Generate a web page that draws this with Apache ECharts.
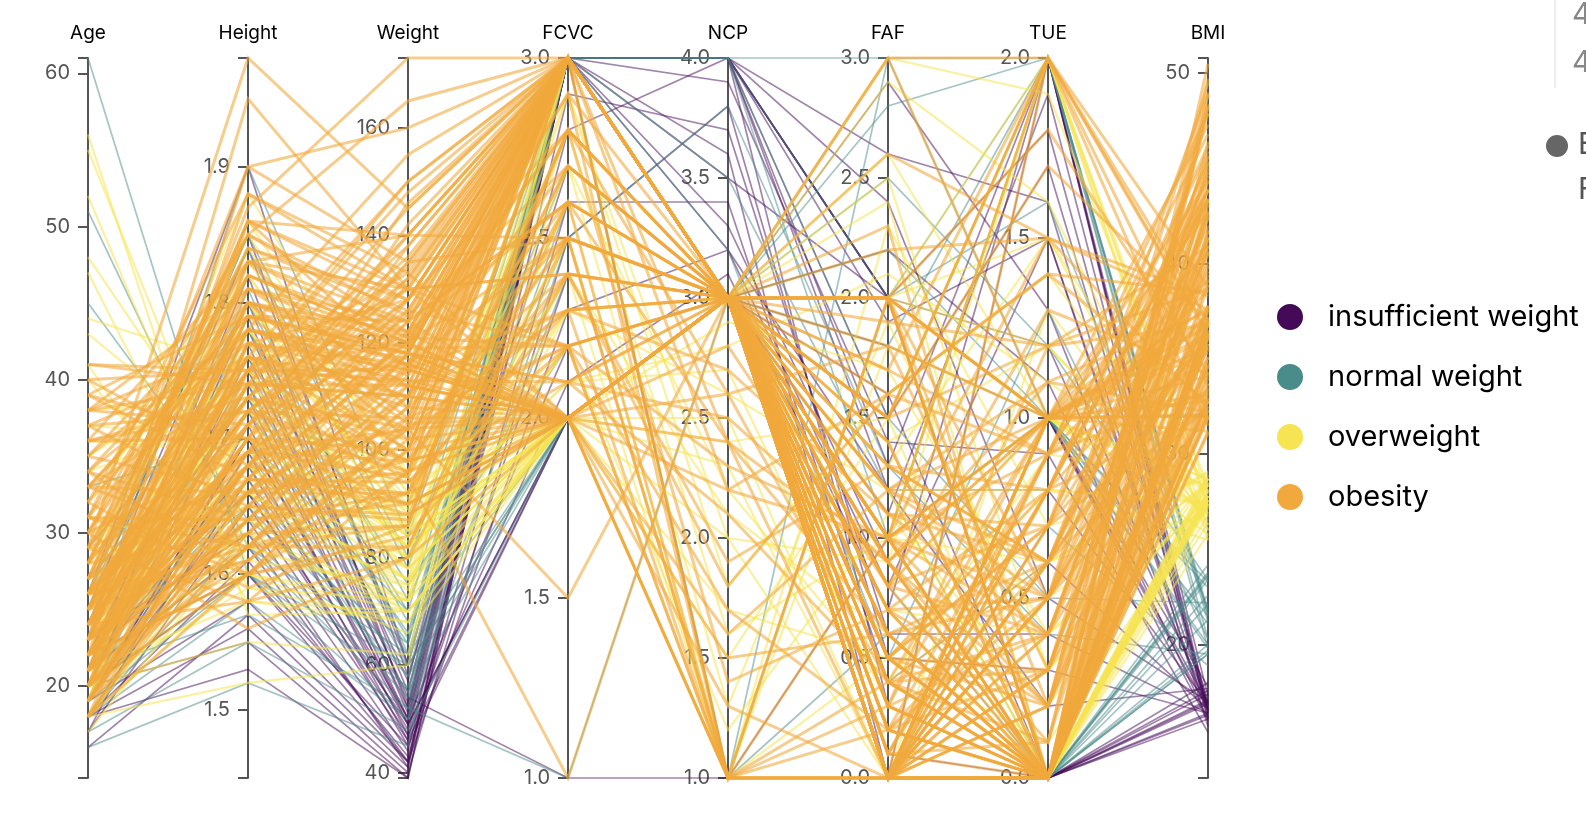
<!DOCTYPE html>
<html>
<head>
<meta charset="utf-8">
<script src="https://cdn.jsdelivr.net/npm/echarts@6/dist/echarts.min.js"></script>
<style>html,body{margin:0;padding:0;background:#fff;overflow:hidden}#main{width:1586px;height:830px}</style>
</head>
<body>
<div id="main"></div>
<script>
// ---- data ----
const dimensions = ['Age', 'Height', 'Weight', 'FCVC', 'NCP', 'FAF', 'TUE', 'BMI'];
const categories = ['insufficient weight', 'normal weight', 'overweight', 'obesity'];
const categoryColors = ['#440a58', '#4a8c8a', '#f6e452', '#f1a83d'];

// rows: Age, Height, Weight, FCVC, NCP, FAF, TUE, BMI
const insufficientRows = [
  [21,1.62,42,3,4,2.0,1.0,16.0],[19,1.70,50,3,3,1.0,2.0,17.3],[18,1.56,40,2.5,3.8,0.5,0.3,16.4],
  [22,1.75,52,3,4,1.5,1.7,17.0],[20,1.60,45,2.0,3,0.0,0.0,17.6],[23,1.80,55,3,3.5,2.0,1.2,17.0],
  [17,1.65,46,2.8,4,1.2,0.8,16.9],[24,1.72,50,3,3,0.2,0.0,16.9],[19,1.58,42,2.3,3.2,0.8,1.5,16.8],
  [21,1.68,48,3,4,2.4,0.5,17.0],[25,1.85,58,2.7,3,1.8,1.0,16.9],[18,1.53,39,3,3.6,0.0,2.0,16.7],
  [20,1.76,54,1.0,1.0,1.0,0.0,17.4],[22,1.64,44,3,4,2.0,1.8,16.4],[19,1.70,49,2.0,3,1.6,0.0,17.0],
  [26,1.90,60,3,3,2.9,1.3,16.6],[18,1.61,43,2.6,3.4,0.4,0.6,16.6],[23,1.66,47,3,4,2.0,0.0,17.1],
  [20,1.74,50,2.2,3.0,1.1,1.9,16.5],[16,1.57,41,3,1.0,0.0,1.0,16.6],[21,1.79,53,3,4,1.3,2.0,16.5],
  [22,1.60,42,2.9,3.7,0.6,0.4,16.4],[19,1.69,46,2.0,3.0,2.2,1.1,16.1],[24,1.73,49,3,3.3,0.9,0.0,16.4],
  [20,1.55,39,3,4,1.9,1.5,16.2],[18,1.67,45,2.4,3,0.1,0.0,16.1],[21,1.82,52,3,4,2.6,1.6,15.7],
  [23,1.63,41,3,3.9,1.4,0.9,15.4],[17,1.71,47,2.1,3.1,0.7,2.0,16.1],[20,1.77,51,3,4,0.3,0.0,16.3],
  [22,1.78,57,3,4,2.0,0.0,18.0],[19,1.66,49,2.0,3,1.0,1.0,17.8],[24,1.84,60,3,3.2,1.2,0.2,17.7]
];
const normalRows = [
  [21,1.70,62,3,3,1.0,1.0,21.5],[23,1.65,58,2.0,3,0.0,0.0,21.3],[61,1.60,60,3,1.0,0.0,0.0,23.4],
  [19,1.75,65,3,4,2.0,2.0,21.2],[26,1.80,72,2.5,3,1.5,0.5,22.2],[51,1.62,62,2.0,3,0.5,0.0,23.6],
  [18,1.58,50,3,3,2.0,1.0,20.0],[22,1.78,68,2.0,1.0,3.0,2.0,21.5],[20,1.68,55,3,4,1.0,0.0,19.5],
  [25,1.85,80,2.7,3,2.5,1.2,23.4],[17,1.55,48,2.0,3,0.3,0.0,20.0],[24,1.72,64,3,3,1.8,2.0,21.6],
  [21,1.62,52,1.0,3,0.0,1.0,19.8],[29,1.76,70,3,3.5,1.2,0.0,22.6],[19,1.60,56,2.4,3,2.0,1.6,21.9],
  [23,1.90,84,3,4,3.0,1.0,23.3],[16,1.52,45,3,3,0.8,0.0,19.5],[22,1.66,60,2.0,3,1.0,2.0,21.8],
  [27,1.73,66,3,1.0,2.0,0.0,22.1],[20,1.81,62,2.6,3,0.0,0.7,18.9],[18,1.63,54,3,4,1.5,2.0,20.3],
  [33,1.70,70,2.0,3,0.0,0.0,24.2],[21,1.57,52,3,3,2.2,1.0,21.1],[24,1.78,75,2.2,3,1.0,0.0,23.7],
  [19,1.69,58,3,3.2,0.5,1.3,20.3],[22,1.74,60,2.0,3,2.8,2.0,19.8],[45,1.64,64,3,3,0.0,0.0,23.8],
  [20,1.60,50,2.5,3.8,1.3,0.4,19.5],[26,1.84,78,3,3,2.0,1.0,23.0],[18,1.67,55,2.0,1.0,0.6,0.0,19.7]
];
const overweightRows = [
  [22,1.70,78,2.0,3,1.0,1.0,27.0],[55,1.62,72,3,3,0.0,0.0,27.4],[25,1.75,82,2.5,1.0,0.5,0.0,26.8],
  [30,1.65,75,2.0,3,0.0,0.8,27.5],[19,1.80,88,3,3,2.0,2.0,27.2],[41,1.58,68,2.3,2.6,1.2,0.0,27.2],
  [23,1.68,76,2.0,1.0,1.8,1.0,26.9],[26,1.85,95,2.8,3,2.5,0.3,27.8],[18,1.60,66,2.0,3,0.3,0.0,25.8],
  [34,1.72,84,2.0,2.0,0.0,0.5,28.4],[21,1.77,80,3,3,1.0,2.0,25.5],[48,1.66,76,2.6,1.0,0.0,0.0,27.6],
  [24,1.74,85,2.1,2.8,2.1,1.1,28.1],[20,1.55,62,3,3,0.0,1.0,25.8],[28,1.82,92,2.0,1.5,1.5,0.0,27.8],
  [37,1.70,82,2.4,3,0.7,0.0,28.4],[17,1.63,70,2.0,3,2.9,1.6,26.3],[23,1.78,90,2.7,2.2,0.4,0.9,28.4],
  [52,1.60,72,2.0,3,0.0,0.0,28.1],[22,1.67,80,2.2,1.2,1.1,0.2,28.7],[27,1.88,100,3,3,2.0,1.0,28.3],
  [19,1.72,78,2.0,2.5,0.0,0.0,26.4],[31,1.64,76,2.9,1.8,1.6,1.4,28.3],[21,1.58,70,2.0,3,0.9,2.0,28.0],
  [44,1.75,86,2.5,3,0.2,0.0,28.1],[25,1.69,82,2.0,1.0,2.3,0.7,28.7],[20,1.80,86,2.3,3,1.4,1.2,26.5],
  [29,1.62,73,2.0,2.3,0.0,0.0,27.8],[23,1.76,88,3,3,3.0,1.9,28.4],[38,1.73,82,2.0,3,0.5,0.1,27.4],
  [18,1.66,74,2.8,1.6,1.0,0.6,26.9],[56,1.57,70,2.0,3,0.0,0.0,28.4],[22,1.83,96,2.0,2.9,1.7,0.4,28.7],
  [26,1.71,84,2.6,3,0.8,1.0,28.7],[20,1.59,68,2.0,1.0,0.0,1.3,26.9],[33,1.78,91,2.2,3,2.4,0.0,28.7],
  [24,1.68,72,3,3,1.2,0.8,25.5],[21,1.74,87,2.0,3,0.0,0.0,28.7],[40,1.61,75,2.4,2.1,0.6,0.0,28.9],
  [19,1.86,98,2.0,3,2.0,1.5,28.3],[27,1.65,78,2.7,1.3,1.9,0.3,28.7],[23,1.70,83,2.0,3,0.0,1.0,28.7],
  [35,1.76,85,2.1,2.7,0.3,0.0,27.4],[18,1.52,60,3,3,1.0,2.0,26.0],[29,1.80,94,2.0,3,1.3,0.6,29.0],
  [21,1.75,84,2.0,3,1.0,0.0,27.4],[26,1.63,72,2.5,3,0.0,1.0,27.1],[43,1.68,78,2.0,3,0.3,0.0,27.6],
  [19,1.78,85,2.4,1.0,2.0,1.2,26.8],[24,1.60,70,2.0,3,0.7,0.4,27.3],[32,1.82,92,2.8,3,1.2,0.0,27.8],
  [22,1.71,80,2.0,2.4,1.5,2.0,27.4],[28,1.66,76,2.2,3,0.0,0.0,27.6],[47,1.59,72,2.0,3,0.0,0.0,28.5],
  [20,1.84,95,2.6,3,2.6,1.0,28.1],[25,1.73,82,2.0,1.7,0.5,0.8,27.4],[36,1.69,80,2.3,3,0.0,0.0,28.0],
  [18,1.64,70,2.0,3,1.3,1.5,26.0],[23,1.79,89,2.9,2.0,0.9,0.0,27.8],[30,1.70,84,2.0,3,0.4,0.6,29.1]
];
const obesityRows = [
  [26,1.65,118,3,3,0.0,0.6,43.3],[21,1.70,125,3,3,0.2,0.0,43.3],[23,1.62,112,3,3,0.0,1.0,42.7],
  [25,1.75,130,3,3,0.5,0.3,42.4],[19,1.68,120,3,3,0.0,0.0,42.5],[22,1.72,132,3,3,0.8,0.7,44.6],
  [24,1.64,115,3,3,0.0,0.4,42.8],[20,1.60,105,3,3,0.1,0.0,41.0],[26,1.73,140,3,3,1.0,0.9,46.8],
  [18,1.66,110,3,3,0.0,0.2,39.9],[25,1.69,135,3,3,0.3,1.0,47.3],[21,1.61,102,3,3,0.0,0.5,39.4],
  [23,1.76,150,3,3,0.6,0.0,48.4],[22,1.67,128,3,3,0.0,0.8,45.9],[26,1.71,122,3,3,0.4,0.1,41.7],
  [20,1.63,108,3,3,0.9,0.0,40.6],[24,1.74,138,3,3,0.0,0.6,45.6],[19,1.68,115,3,3,0.2,0.3,40.7],
  [18,1.75,133,3,3,0.1,0.9,43.4],[21,1.64,110,3,3,0.4,0.3,40.9],[24,1.66,124,3,3,0.0,0.0,45.0],
  [26,1.69,120,3,3,0.6,0.6,42.0],[22,1.60,106,3,3,0.3,0.4,41.4],[20,1.72,134,3,3,0.0,0.7,45.3],
  [23,1.63,118,3,3,0.5,0.0,44.4],[25,1.71,140,3,3,0.2,0.9,47.9],[19,1.65,122,3,3,0.0,0.5,44.8],
  [21,1.74,145,3,3,0.7,0.2,47.9],[26,1.62,114,3,3,0.1,0.8,43.4],[22,1.68,131,3,3,0.9,0.1,46.4],
  [24,1.73,136,3,3,0.0,0.3,45.4],[20,1.66,112,3,3,0.4,1.0,40.6],[23,1.70,146,3,3,0.0,0.0,50.5],
  [25,1.61,104,3,3,0.8,0.4,40.1],[18,1.69,118,3,3,0.2,0.6,41.3],[21,1.67,126,3,3,0.0,0.2,45.2],
  [26,1.75,150,3,3,0.5,0.7,49.0],[22,1.64,116,3,3,0.3,0.0,43.1],[24,1.71,128,3,3,0.0,0.9,43.8],
  [19,1.62,108,3,3,0.6,0.5,41.2],[25,1.68,138,3,3,0.1,0.1,48.9],[20,1.73,130,3,3,0.0,0.4,43.4],
  [23,1.66,121,3,3,0.7,0.8,43.9],
  [30,1.80,120,2.5,3,1.0,0.0,37.0],[35,1.78,118,2.0,3,0.0,1.0,37.2],[28,1.85,125,2.7,3,2.0,0.0,36.5],
  [40,1.75,115,2.0,3,0.5,0.0,37.6],[27,1.82,122,3,3,1.5,1.2,36.8],[33,1.79,119,2.2,1.0,0.0,0.0,37.1],
  [31,1.88,130,2.4,3,1.2,0.5,36.8],[25,1.77,115,2.0,3,2.0,1.0,36.7],[38,1.81,121,2.8,3,0.0,0.0,36.9],
  [29,1.76,110,2.0,2.6,1.8,0.3,35.5],[36,1.83,124,2.6,3,0.7,0.0,37.0],[23,1.80,118,2.0,3,1.0,2.0,36.4],
  [41,1.74,112,2.3,3,0.0,0.0,37.0],[26,1.86,128,3,3,2.0,1.0,37.0],[32,1.78,117,2.0,1.0,0.4,0.0,36.9],
  [28,1.90,135,2.5,3,1.3,0.8,37.4],[34,1.77,113,2.1,3,0.0,1.0,36.1],[24,1.82,120,2.0,3,3.0,2.0,36.2],
  [39,1.79,116,2.9,3,0.2,0.0,36.2],[27,1.84,126,2.2,2.3,1.0,0.5,37.2],
  [22,1.78,115,2.3,3,1.2,0.6,36.3],[30,1.82,120,2.0,3,0.0,0.0,36.2],[25,1.80,122,2.6,3,1.8,1.0,37.7],
  [37,1.76,112,2.0,3,0.5,0.2,36.2],[28,1.84,128,2.8,3,2.0,0.0,37.8],[33,1.79,118,2.1,2.5,0.9,1.0,36.8],
  [20,1.77,116,2.5,3,1.5,1.7,37.0],[41,1.75,113,2.0,3,0.0,0.0,36.9],[26,1.86,130,2.4,3,1.0,0.4,37.6],
  [35,1.81,119,2.9,1.0,0.3,0.0,36.3],[24,1.79,124,2.0,3,1.9,1.2,38.7],[29,1.83,121,2.2,3,0.6,0.0,36.1],
  [31,1.78,114,2.7,3,1.1,0.7,36.0],[23,1.88,133,2.0,3,2.2,1.5,37.6],[38,1.74,110,2.5,3,0.0,0.5,36.3],
  [22,1.70,90,2.0,3,1.0,0.0,31.1],[33,1.62,82,2.5,1.0,0.0,0.0,31.2],[26,1.75,98,3,3,2.0,1.0,32.0],
  [37,1.65,88,2.0,1.0,0.0,0.3,32.3],[21,1.80,102,2.3,3,1.5,2.0,31.5],[29,1.58,80,2.0,2.4,0.6,0.0,32.0],
  [24,1.72,95,2.7,3,0.0,1.0,32.1],[40,1.68,90,2.0,3,0.3,0.0,31.9],[19,1.77,100,3,1.0,2.0,0.5,31.9],
  [31,1.60,84,2.2,3,0.0,0.0,32.8],[23,1.83,108,2.0,1.6,1.2,1.1,32.2],[35,1.66,92,2.6,3,0.9,0.0,33.4],
  [20,1.74,98,2.0,3,2.6,1.5,32.4],[28,1.63,86,3,1.0,0.0,0.7,32.4],[38,1.71,96,2.1,2.1,0.4,0.0,32.8],
  [25,1.79,105,2.0,3,1.0,1.0,32.8],[30,1.56,80,2.4,3,0.0,0.0,32.9],[22,1.69,95,1.0,3,1.7,0.9,33.3],
  [27,1.86,115,2.0,1.3,0.0,0.0,33.2],[34,1.64,90,2.8,3,1.1,0.4,33.5],[21,1.76,104,2.0,3,0.0,2.0,33.6],
  [39,1.67,94,2.3,1.0,2.0,0.0,33.7],[24,1.81,112,2.0,2.8,0.8,1.3,34.2],[32,1.59,86,3,3,0.0,0.2,34.0],
  [26,1.73,102,2.0,3,3.0,1.0,34.1],[36,1.70,100,2.5,3,0.5,0.0,34.6],[23,1.95,130,2.0,3,2.0,1.8,34.2],
  [29,1.98,145,3,3,1.5,2.0,37.0],[22,1.90,160,3,3,1.0,1.0,44.3],[25,1.87,173,3,3,0.0,0.5,49.5],
  [30,1.85,165,3,3,0.5,0.0,48.2],[21,1.78,155,3,3,0.0,0.0,48.9],[27,1.66,98,2.4,1.9,1.3,0.6,35.6],
  [33,1.74,110,2.6,2.4,0.0,1.0,36.3],[20,1.62,92,2.8,1.4,0.7,0.0,35.1],[24,1.58,96,3,2.2,1.6,1.4,38.5],
  [37,1.72,106,2.2,1.7,0.2,0.0,35.8],[18,1.60,100,3,3,0.0,1.0,39.1],[26,1.69,104,1.5,3,2.3,0.0,36.4],
  [31,1.83,140,3,3,0.0,0.0,41.8],[22,1.75,148,3,3,1.0,0.2,48.3],[19,1.67,90,2.0,3,0.5,0.8,32.3],
  [22,1.68,88,2.0,3,0.8,1.0,31.2],[34,1.60,82,2.6,1.0,0.0,0.0,32.0],[27,1.73,96,2.0,3,1.4,0.0,32.1],
  [20,1.65,87,3,3,2.0,1.0,32.0],[39,1.70,94,2.2,3,0.0,0.6,32.5],[25,1.76,100,2.0,1.0,1.0,0.0,32.3],
  [31,1.62,86,2.8,2.6,0.4,0.0,32.8],[23,1.80,106,2.0,3,1.6,1.4,32.7],[29,1.67,92,2.4,3,0.0,0.0,33.0],
  [36,1.72,98,2.0,3,0.9,1.0,33.1],
  [27,1.68,104,2.3,2.7,1.1,0.6,36.8],[21,1.77,128,3,3,0.3,1.2,40.9],[25,1.63,110,3,3,0.6,0.0,41.4],
  [19,1.71,135,3,3,0.0,0.8,46.2],[23,1.79,118,2.1,3,1.4,0.0,36.8],[30,1.69,98,2.5,1.0,0.2,0.5,34.3],
  [22,1.60,96,3,2.4,0.9,1.1,37.5],[26,1.72,126,3,3,0.4,0.4,42.6],[34,1.80,116,2.0,3,0.8,0.0,35.8],
  [20,1.64,118,3,3,0.0,0.6,43.9],[28,1.76,108,2.4,1.8,1.6,0.9,34.9],[24,1.69,142,3,3,0.2,0.0,49.7],
  [32,1.85,122,2.0,3,1.2,1.0,35.6],[21,1.62,104,3,3,0.5,0.7,39.6],[36,1.73,104,2.2,1.0,0.0,0.0,34.7],
  [23,1.67,119,3,3,0.0,0.3,42.7],[29,1.81,124,2.6,3,2.0,0.2,37.8],[25,1.74,116,2.0,2.2,1.0,1.5,38.3],
  [18,1.65,106,3,3,0.3,0.0,38.9],[27,1.78,112,2.0,3,0.0,1.0,35.3],[22,1.70,132,3,3,0.7,0.5,45.7],
  [33,1.66,96,2.7,3,0.4,0.0,34.8],[20,1.83,130,2.2,3,1.7,2.0,38.8],[26,1.61,100,3,3,0.0,0.9,38.6],
  [38,1.77,110,2.0,3,1.0,0.0,35.1],[24,1.72,128,3,3,0.1,0.8,43.3],[21,1.86,140,2.5,3,1.3,0.6,40.5],
  [31,1.64,92,2.0,1.5,0.6,0.0,34.2],[23,1.68,124,3,3,0.9,0.2,43.9],[28,1.75,120,2.8,3,0.0,0.0,39.2]
];
const rowsByCategory = [insufficientRows, normalRows, overweightRows, obesityRows];

// axis extents and tick steps
const axisMin = [14, 1.45, 39, 1, 1, 0, 0, 13];
const axisMax = [61, 1.98, 173, 3, 4, 3, 2, 50.8];
const axisStep = [10, 0.1, 20, 0.5, 0.5, 0.5, 0.5, 10];
const axisDecimals = [0, 1, 0, 1, 1, 1, 1, 0];

// ---- chart ----
const chart = echarts.init(document.getElementById('main'));
const FONT = 'Inter, "Noto Sans", sans-serif';

const parallelAxis = dimensions.map((name, i) => {
  const ax = {
    dim: i,
    name: name,
    min: axisMin[i],
    max: axisMax[i],
    axisLabel: {
      formatter: function (v) {
        const k = v / axisStep[i];
        if (Math.abs(k - Math.round(k)) > 1e-6) return '';
        return v.toFixed(axisDecimals[i]);
      }
    }
  };
  if (axisMin[i] % axisStep[i] === 0 && axisStep[i] < 1) ax.interval = axisStep[i];
  else ax.splitNumber = Math.round((axisMax[i] - axisMin[i]) / axisStep[i]);
  return ax;
});

const widths = [1.7, 1.7, 2.2, 3.0];
const opacities = [0.5, 0.5, 0.55, 0.58];
const series = categories.map((c, i) => ({
  name: c,
  type: 'parallel',
  z: 10,
  data: rowsByCategory[i],
  lineStyle: { color: categoryColors[i], width: widths[i], opacity: opacities[i] },
  emphasis: { disabled: true },
  silent: true
}));

chart.setOption({
  animation: false,
  color: categoryColors,
  parallel: {
    left: 88, right: 378, top: 58, bottom: 52,
    parallelAxisDefault: {
      z: 0,
      nameLocation: 'end',
      nameGap: 15,
      nameTextStyle: { color: '#000', fontSize: 19, fontFamily: FONT },
      axisLine: { lineStyle: { color: '#555', width: 2 } },
      axisTick: { length: -10, lineStyle: { color: '#555', width: 2 } },
      axisLabel: { color: '#555', fontSize: 20, fontFamily: FONT, margin: -18, align: 'right' },
      splitLine: { show: false }
    }
  },
  parallelAxis: parallelAxis,
  legend: {
    orient: 'vertical',
    left: 1272,
    top: 297,
    itemWidth: 24,
    itemHeight: 24,
    itemGap: 30,
    icon: 'circle',
    selectedMode: false,
    textStyle: { color: '#000', fontSize: 29, lineHeight: 30, fontFamily: FONT, padding: [0, 0, 0, 21] },
    data: categories.map((c, i) => ({ name: c, itemStyle: { color: categoryColors[i], opacity: 1 } }))
  },
  graphic: [
    { type: 'line', shape: { x1: 1555, y1: 0, x2: 1555, y2: 88 }, style: { stroke: '#eeeeee', lineWidth: 2 } },
    { type: 'text', left: 1572, top: 0, style: { text: '4', fill: '#888', fontSize: 30, fontFamily: FONT } },
    { type: 'text', left: 1572, top: 48, style: { text: '4', fill: '#888', fontSize: 30, fontFamily: FONT } },
    { type: 'circle', shape: { cx: 1557, cy: 146, r: 11 }, style: { fill: '#666' } },
    { type: 'text', left: 1578, top: 130, style: { text: 'E', fill: '#555', fontSize: 30, fontFamily: FONT } },
    { type: 'text', left: 1578, top: 175, style: { text: 'F', fill: '#555', fontSize: 30, fontFamily: FONT } }
  ],
  series: series
});
</script>
</body>
</html>
